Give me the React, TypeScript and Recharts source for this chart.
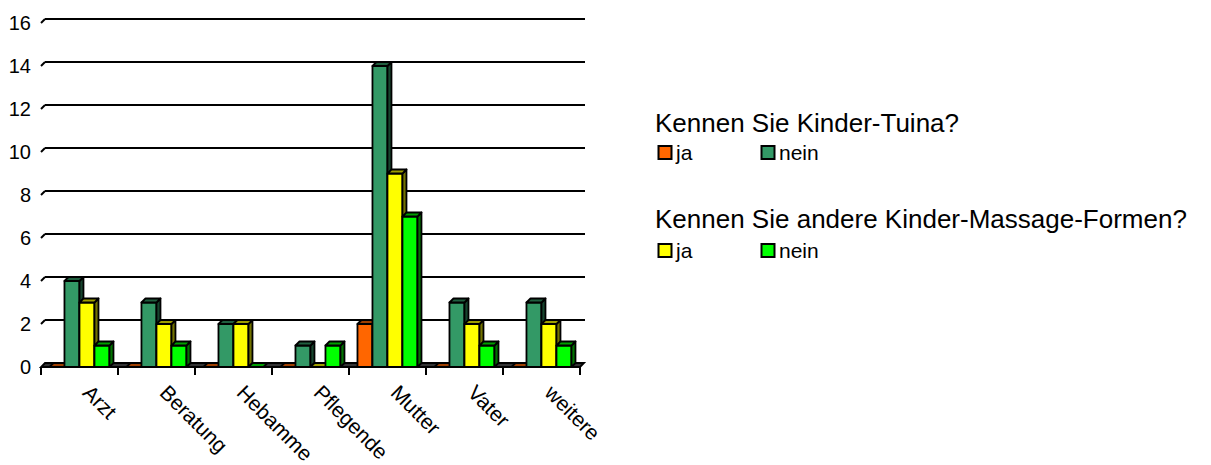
import { Bar, BarChart, CartesianGrid, XAxis, YAxis } from 'recharts';

const categories = ['Arzt', 'Beratung', 'Hebamme', 'Pflegende', 'Mutter', 'Vater', 'weitere'];
const tuinaJa = [0, 0, 0, 0, 2, 0, 0];
const tuinaNein = [4, 3, 2, 1, 14, 3, 3];
const massageJa = [3, 2, 2, 0, 9, 2, 2];
const massageNein = [1, 1, 0, 1, 7, 1, 1];
const yTicks = [0, 2, 4, 6, 8, 10, 12, 14, 16];

const legendGroups = [
  {
    title: 'Kennen Sie Kinder-Tuina?',
    items: [
      { label: 'ja', color: '#FF6600' },
      { label: 'nein', color: '#339966' },
    ],
  },
  {
    title: 'Kennen Sie andere Kinder-Massage-Formen?',
    items: [
      { label: 'ja', color: '#FFFF00' },
      { label: 'nein', color: '#00FF00' },
    ],
  },
];

const data = categories.map((name, i) => ({
  name,
  tuinaJa: tuinaJa[i],
  tuinaNein: tuinaNein[i],
  massageJa: massageJa[i],
  massageNein: massageNein[i],
}));

const FONT = '"Liberation Sans", Arial, sans-serif';
const W = 1195;
const H = 457;
const PLOT_LEFT = 33;
const PLOT_RIGHT = 572;
const PLOT_BOTTOM = 359;
const DEPTH = 4;
const BAND = (PLOT_RIGHT - PLOT_LEFT) / categories.length;

function shade(hex: string, k: number) {
  const n = parseInt(hex.slice(1), 16);
  const r = Math.round(((n >> 16) & 255) * k);
  const g = Math.round(((n >> 8) & 255) * k);
  const b = Math.round((n & 255) * k);
  return `rgb(${r},${g},${b})`;
}

function Bar3D(props: any) {
  const { x, y, width, height, fill } = props;
  const d = DEPTH;
  const top = `${x},${y} ${x + width},${y} ${x + width + d},${y - d} ${x + d},${y - d}`;
  const side = `${x + width},${y} ${x + width + d},${y - d} ${x + width + d},${y + height - d} ${x + width},${y + height}`;
  return (
    <g stroke="#000" strokeWidth={1.8} strokeLinejoin="round">
      {height > 0 && <rect x={x} y={y} width={width} height={height} fill={fill} />}
      {height > 0 && <polygon points={side} fill={shade(fill, 0.45)} />}
      <polygon points={top} fill={shade(fill, 0.62)} />
    </g>
  );
}

function GridLine(props: any) {
  const { x1, x2, y1, index } = props;
  const d = DEPTH;
  if (y1 >= PLOT_BOTTOM - 0.5) {
    return (
      <polygon
        key={`floor-${index}`}
        points={`${x1},${y1} ${x2},${y1} ${x2 + d},${y1 - d} ${x1 + d},${y1 - d}`}
        fill="#333"
        stroke="#000"
        strokeWidth={1.8}
      />
    );
  }
  return (
    <g key={`grid-${index}`} stroke="#000" strokeWidth={2} fill="none">
      <line x1={x1} y1={y1} x2={x1 + d} y2={y1 - d} />
      <line x1={x1 + d} y1={y1 - d} x2={x2 + d + 1} y2={y1 - d} />
    </g>
  );
}

function CategoryTick(props: any) {
  const { x, payload, index } = props;
  const lx = x + 2;
  const ly = PLOT_BOTTOM + 27;
  return (
    <g>
      <line x1={x - BAND / 2} y1={PLOT_BOTTOM} x2={x - BAND / 2} y2={PLOT_BOTTOM + 8} stroke="#000" strokeWidth={2} />
      {index === categories.length - 1 && (
        <line x1={x + BAND / 2} y1={PLOT_BOTTOM} x2={x + BAND / 2} y2={PLOT_BOTTOM + 8} stroke="#000" strokeWidth={2} />
      )}
      <text
        x={lx}
        y={ly}
        transform={`rotate(45 ${lx} ${ly})`}
        textAnchor="start"
        fontSize={21}
        fontFamily={FONT}
        fill="#000"
      >
        {payload.value}
      </text>
    </g>
  );
}

function LegendBlock() {
  const rows = [
    { titleY: 124, rowY: 152 },
    { titleY: 220, rowY: 250 },
  ];
  return (
    <svg width={W} height={H} style={{ position: 'absolute', left: 0, top: 0, pointerEvents: 'none' }}>
      {legendGroups.map((g, gi) => (
        <g key={g.title} fontFamily={FONT} fill="#000">
          <text x={647} y={rows[gi].titleY} fontSize={26}>
            {g.title}
          </text>
          {g.items.map((it, ii) => {
            const sx = 650.5 + ii * 103;
            return (
              <g key={it.label + ii}>
                <rect x={sx} y={rows[gi].rowY - 14} width={13} height={13} fill={it.color} stroke="#000" strokeWidth={2} />
                <text x={sx + 17.5} y={rows[gi].rowY} fontSize={21}>
                  {it.label}
                </text>
              </g>
            );
          })}
        </g>
      ))}
    </svg>
  );
}

export default function App() {
  return (
    <div style={{ position: 'relative', width: W, height: H, fontFamily: FONT }}>
      <BarChart
        width={W}
        height={H}
        data={data}
        margin={{ top: 15, right: W - PLOT_RIGHT, left: 0, bottom: H - PLOT_BOTTOM - 60 }}
        barCategoryGap="11%"
        barGap={0}
      >
        <CartesianGrid vertical={false} horizontal={(p: any) => <GridLine {...p} />} />
        <XAxis
          dataKey="name"
          interval={0}
          height={60}
          axisLine={false}
          tickLine={false}
          tick={<CategoryTick />}
        />
        <YAxis
          width={33}
          domain={[0, 16]}
          ticks={yTicks}
          interval={0}
          axisLine={false}
          tickLine={false}
          tickSize={0}
          tickMargin={10}
          tick={{ fill: '#000', fontSize: 20, fontFamily: FONT }}
        />
        <Bar dataKey="tuinaJa" fill="#FF6600" shape={<Bar3D />} isAnimationActive={false} />
        <Bar dataKey="tuinaNein" fill="#339966" shape={<Bar3D />} isAnimationActive={false} />
        <Bar dataKey="massageJa" fill="#FFFF00" shape={<Bar3D />} isAnimationActive={false} />
        <Bar dataKey="massageNein" fill="#00FF00" shape={<Bar3D />} isAnimationActive={false} />
      </BarChart>
      <LegendBlock />
    </div>
  );
}
